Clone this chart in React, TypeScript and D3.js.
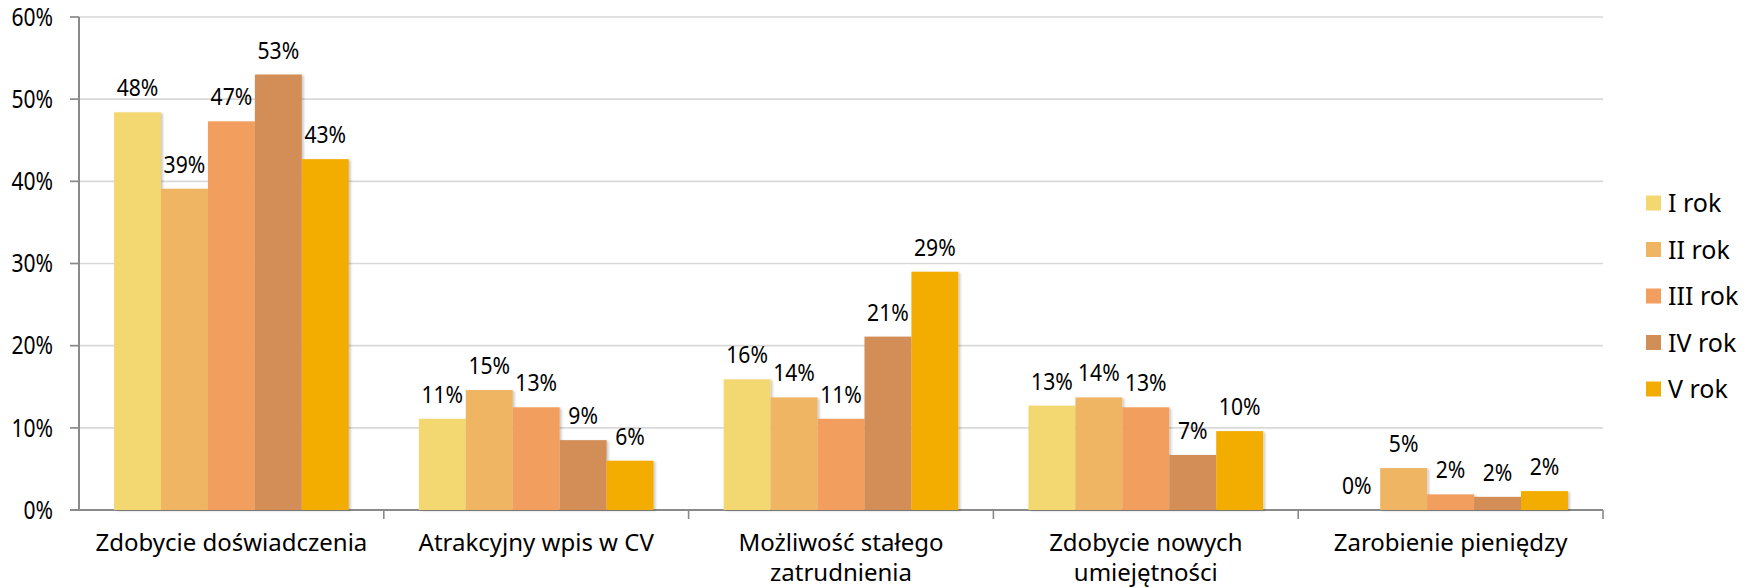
import { scaleBand, scaleLinear } from 'd3';

const width = 1752;
const height = 588;
const left = 79;
const right = 1603;
const top = 17;
const bottom = 510;

const categories = [
  ['Zdobycie doświadczenia'],
  ['Atrakcyjny wpis w CV'],
  ['Możliwość stałego', 'zatrudnienia'],
  ['Zdobycie nowych', 'umiejętności'],
  ['Zarobienie pieniędzy'],
];
const seriesNames = ['I rok', 'II rok', 'III rok', 'IV rok', 'V rok'];
const seriesColors = ['#F3D76F', '#EFB562', '#F29E5F', '#D28E57', '#F3AC02'];

// one array per year, values in percent, same order as categories
const rok1 = [48.4, 11.1, 15.9, 12.7, 0];
const rok2 = [39.1, 14.6, 13.7, 13.7, 5.1];
const rok3 = [47.3, 12.5, 11.1, 12.5, 1.9];
const rok4 = [53.0, 8.5, 21.1, 6.7, 1.6];
const rok5 = [42.7, 6.0, 29.0, 9.6, 2.3];
const series = [rok1, rok2, rok3, rok4, rok5];

const yTicks = [0, 10, 20, 30, 40, 50, 60];

const font = '"Noto Sans", "DejaVu Sans", sans-serif';

const x0 = scaleBand<number>()
  .domain(categories.map((_, i) => i))
  .range([left, right])
  .padding(0);

const bw = x0.bandwidth();
const x1 = scaleBand<number>()
  .domain(seriesNames.map((_, i) => i))
  .range([bw * 0.115, bw * 0.885])
  .padding(0);

const y = scaleLinear().domain([0, 60]).range([bottom, top]);

const App = () => {
  return (
    <svg
      width={width}
      height={height}
      style={{ position: 'absolute', left: 0, top: 0, background: '#fff' }}
      fontFamily={font}
    >
      <defs>
        <filter id="shadow" x="-10%" y="-10%" width="130%" height="130%">
          <feDropShadow dx="2" dy="1" stdDeviation="1.3" floodColor="#000" floodOpacity="0.2" />
        </filter>
      </defs>

      {/* grid + y ticks */}
      {yTicks.map(t => (
        <g key={t}>
          <line
            x1={left - 9}
            x2={right}
            y1={y(t)}
            y2={y(t)}
            stroke={t === 0 ? '#8a8a8a' : '#d9d9d9'}
            strokeWidth={t === 0 ? 2 : 1.6}
          />
          {t !== 0 && <line x1={left - 9} x2={left} y1={y(t)} y2={y(t)} stroke="#8a8a8a" strokeWidth={1.6} />}
          <text
            transform={`translate(53,${y(t)}) scale(0.86,1)`}
            dy="0.36em"
            textAnchor="end"
            fontSize={24.5}
            fill="#000"
          >
            {t}%
          </text>
        </g>
      ))}
      <line x1={left} x2={left} y1={top} y2={bottom} stroke="#8a8a8a" strokeWidth={2} />

      {/* category boundary ticks */}
      {categories.map((_, i) => (
        <line
          key={i}
          x1={(x0(i) ?? 0) + bw}
          x2={(x0(i) ?? 0) + bw}
          y1={bottom}
          y2={bottom + 9}
          stroke="#8a8a8a"
          strokeWidth={1.6}
        />
      ))}

      {/* bars */}
      {categories.map((_, ci) => (
        <g key={ci} transform={`translate(${x0(ci)},0)`}>
          {series.map((vals, si) => (
            <rect
              key={si}
              x={x1(si)}
              y={y(vals[ci])}
              width={x1.bandwidth()}
              height={bottom - y(vals[ci])}
              fill={seriesColors[si]}
              filter={vals[ci] > 0 ? 'url(#shadow)' : undefined}
            />
          ))}
          {series.map((vals, si) => (
            <text
              key={'l' + si}
              transform={`translate(${(x1(si) ?? 0) + x1.bandwidth() / 2},${y(vals[ci]) - 16}) scale(0.88,1)`}
              textAnchor="middle"
              fontSize={24}
              fill="#000"
            >
              {Math.round(vals[ci])}%
            </text>
          ))}
        </g>
      ))}

      {/* category labels */}
      {categories.map((lines, i) => (
        <text
          key={i}
          x={(x0(i) ?? 0) + bw / 2}
          y={551}
          textAnchor="middle"
          fontSize={24}
          fill="#000"
        >
          {lines.map((ln, k) => (
            <tspan key={k} x={(x0(i) ?? 0) + bw / 2} dy={k === 0 ? 0 : 30}>
              {ln}
            </tspan>
          ))}
        </text>
      ))}

      {/* legend */}
      {seriesNames.map((name, i) => (
        <g key={name} transform={`translate(1646,${203 + i * 46.5})`}>
          <rect x={0} y={-7.5} width={15} height={15} fill={seriesColors[i]} />
          <text x={22} y={0} dy="0.36em" fontSize={25} fill="#000">
            {name}
          </text>
        </g>
      ))}
    </svg>
  );
};

export default App;
